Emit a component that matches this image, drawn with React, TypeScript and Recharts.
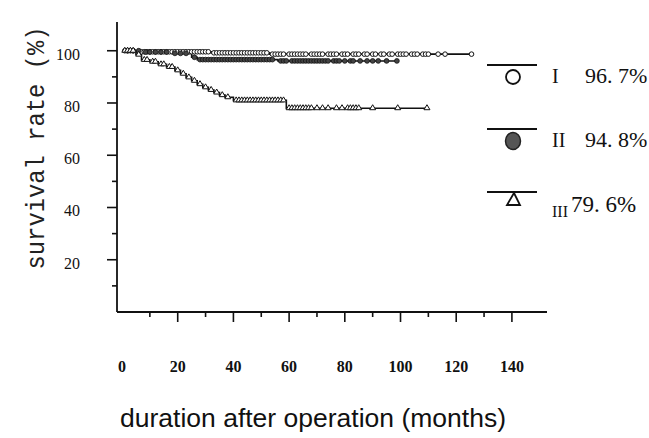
import React from 'react';
import { ComposedChart, Line, XAxis, YAxis } from 'recharts';

// Kaplan-Meier steps [month, survival %]
const stepsI: [number, number][] = [[0, 100], [5, 99.6], [32, 99.2], [53, 98.7]];
const stepsII: [number, number][] = [[0, 100], [8, 99.5], [18, 99], [25, 97.5], [27, 96.6], [56, 96.1]];
const stepsIII: [number, number][] = [
  [0, 100], [5, 98.5], [7, 96.5], [10, 95.8], [13, 94.8], [16, 93.8], [19, 92.5], [21, 91.2],
  [23, 89.8], [25, 88.5], [27, 87.2], [29, 86], [31, 85], [33, 84], [35, 83], [37, 82.2], [40, 81], [59, 78],
];

// censored cases (marks on the curves)
const censorI = [
  1, 2, 3, 4, 6, 7, 8, 9, 10, 11, 12, 13, 14, 15, 16, 17, 18, 19, 20, 21, 22, 23, 24, 25, 26, 27, 28, 29, 30, 31,
  33, 34, 35, 36, 37, 38, 39, 40, 41, 42, 43, 44, 45, 46, 47, 48, 49, 50, 51, 52, 54, 55, 56, 57, 58, 60, 61, 62,
  63, 64, 65, 66, 68, 69, 70, 71, 72, 74, 75, 76, 77, 79, 80, 81, 83, 84, 85, 87, 88, 90, 91, 93, 94, 96, 97, 99,
  100, 101, 102, 104, 105, 106, 108, 109, 110, 113.5, 116, 125.5,
];
const censorII = [
  2, 4, 6, 8.5, 10, 12, 14, 16, 19, 21, 23, 26, 28, 29, 30, 31, 32, 33, 34, 35, 36, 37, 38, 39, 40, 41, 42, 43, 44,
  45, 46, 47, 48, 49, 50, 51, 52, 53, 54, 57, 58, 59, 61, 62, 63, 64, 65, 66, 67, 68, 69, 70, 71, 72, 73, 74, 76,
  77, 78, 80, 82, 83, 85.5, 88, 90, 92, 95, 98.7,
];
const censorIII = [
  1, 2, 3, 4, 6, 8, 9, 11, 12, 14, 15, 17, 18, 20, 22, 24, 26, 28, 30, 32, 34, 36, 38, 41, 42, 43, 44, 45, 46, 47,
  48, 49, 50, 51, 52, 53, 54, 55, 56, 57, 58, 60, 61, 62, 63, 64, 65, 66, 67, 68, 70, 72, 74, 77, 79, 81, 82, 83,
  84, 85, 90, 99, 109.5,
];

const xTicks = [0, 10, 20, 30, 40, 50, 60, 70, 80, 90, 100, 110, 120, 130, 140];
const yTicks = [10, 20, 30, 40, 50, 60, 70, 80, 90, 100];

const legendItems = [
  { roman: 'I', rate: '96. 7%', marker: 'open' },
  { roman: 'II', rate: '94. 8%', marker: 'filled' },
  { roman: 'III', rate: '79. 6%', marker: 'triangle' },
];

type Pt = { t: number; s: number; c?: boolean };

const buildCurve = (steps: [number, number][], censor: number[]): Pt[] => {
  const at = (t: number) => {
    let s = steps[0][1];
    steps.forEach(([st, sv]) => { if (st <= t) s = sv; });
    return s;
  };
  const pts: Pt[] = [
    ...steps.map(([t, s]) => ({ t, s })),
    ...censor.map((t) => ({ t, s: at(t), c: true })),
  ];
  return pts.sort((a, b) => a.t - b.t);
};

const curveI = buildCurve(stepsI, censorI);
const curveII = buildCurve(stepsII, censorII);
const curveIII = buildCurve(stepsIII, censorIII);

const makeDot = (kind: string) => (props: any) => {
  const { cx, cy, payload, index } = props;
  if (!payload?.c) return <g key={`d-${kind}-${index}`} />;
  if (kind === 'open')
    return <circle key={`d-${kind}-${index}`} cx={cx} cy={cy} r={2.3} fill="#fff" stroke="#111" strokeWidth={1} />;
  if (kind === 'filled')
    return <circle key={`d-${kind}-${index}`} cx={cx} cy={cy} r={2.4} fill="#444" stroke="#111" strokeWidth={0.8} />;
  return (
    <path key={`d-${kind}-${index}`} d={`M${cx},${cy - 3.5} L${cx + 3},${cy + 1.5} L${cx - 3},${cy + 1.5} Z`}
      fill="#fff" stroke="#111" strokeWidth={1} />
  );
};

// y ticks: long at every 20, short in between; labels sit a little low as on the scan
const YTick = (props: any) => {
  const { x, y, payload } = props;
  const major = payload.value % 20 === 0;
  return (
    <g>
      <line x1={x - (major ? 10 : 5)} x2={x} y1={y} y2={y} stroke="#111" strokeWidth={1.6} />
      {major && (
        <text x={x - 37} y={y + 9} textAnchor="end" fontFamily="'Liberation Serif', serif" fontSize={16} fill="#111">
          {payload.value}
        </text>
      )}
    </g>
  );
};

const XTick = (props: any) => {
  const { x, y, payload } = props;
  const major = payload.value % 20 === 0;
  return (
    <g>
      {payload.value !== 0 && (
        <line x1={x} x2={x} y1={y} y2={y + (major ? 10 : 5)} stroke="#111" strokeWidth={1.6} />
      )}
      {major && (
        <text x={x} y={y + 60} textAnchor="middle" fontFamily="'Liberation Serif', serif" fontWeight="bold"
          fontSize={16} fill="#111">
          {payload.value}
        </text>
      )}
    </g>
  );
};

const LegendMarker = ({ kind, cy }: { kind: string; cy: number }) => {
  if (kind === 'open') return <circle cx={513} cy={cy + 12} r={7} fill="#fff" stroke="#111" strokeWidth={1.8} />;
  if (kind === 'filled') return <ellipse cx={513} cy={cy + 12} rx={7.5} ry={8.5} fill="#555" stroke="#222" strokeWidth={1.5} />;
  return <path d={`M514,${cy + 1} L520,${cy + 13} L507,${cy + 13} Z`} fill="#fff" stroke="#111" strokeWidth={1.8} />;
};

const App: React.FC = () => {
  const lineY = [65, 129, 192];
  return (
    <div style={{ position: 'absolute', left: 0, top: 0, width: 649, height: 438, background: '#fff' }}>
      <ComposedChart width={649} height={438} margin={{ top: 22, right: 102, bottom: 66, left: 57 }}>
        <XAxis type="number" dataKey="t" domain={[-1.8, 152.6]} ticks={xTicks} allowDataOverflow
          axisLine={{ stroke: '#111', strokeWidth: 1.8 }} tickLine={false} tickSize={0} tickMargin={0}
          height={60} tick={<XTick />} interval={0} />
        <YAxis type="number" domain={[0, 111]} ticks={yTicks} allowDataOverflow
          axisLine={{ stroke: '#111', strokeWidth: 1.8 }} tickLine={false} tickSize={0} tickMargin={0}
          width={60} tick={<YTick />} interval={0} />
        <Line data={curveI} dataKey="s" type="stepAfter" stroke="#111" strokeWidth={1.6}
          dot={makeDot('open')} activeDot={false} isAnimationActive={false} />
        <Line data={curveII} dataKey="s" type="stepAfter" stroke="#111" strokeWidth={1.6}
          dot={makeDot('filled')} activeDot={false} isAnimationActive={false} />
        <Line data={curveIII} dataKey="s" type="stepAfter" stroke="#111" strokeWidth={1.6}
          dot={makeDot('triangle')} activeDot={false} isAnimationActive={false} />
      </ComposedChart>
      <svg width={649} height={438} style={{ position: 'absolute', left: 0, top: 0, pointerEvents: 'none' }}>
        <text x={37} y={148} transform="rotate(-90 37 148)" textAnchor="middle" dominantBaseline="central"
          fontFamily="'Liberation Mono', monospace" fontSize={26} textLength={243} lengthAdjust="spacingAndGlyphs"
          fill="#222">
          survival rate (%)
        </text>
        <text x={313} y={427} textAnchor="middle" fontFamily="'Liberation Sans', Arial, sans-serif" fontSize={26.5}
          fill="#111">
          duration after operation (months)
        </text>
        {legendItems.map((it, i) => (
          <g key={it.roman}>
            <line x1={487} x2={537} y1={lineY[i]} y2={lineY[i]} stroke="#111" strokeWidth={1.8} />
            <LegendMarker kind={it.marker} cy={lineY[i]} />
            {i < 2 ? (
              <>
                <text x={552} y={lineY[i] + 18} fontFamily="'Liberation Serif', serif" fontSize={20} fill="#111">{it.roman}</text>
                <text x={585} y={lineY[i] + 18} fontFamily="'Liberation Serif', serif" fontSize={22} fill="#111">{it.rate}</text>
              </>
            ) : (
              <>
                <text x={552} y={lineY[i] + 25} fontFamily="'Liberation Serif', serif" fontSize={16} fill="#111">{it.roman}</text>
                <text x={571} y={lineY[i] + 20} fontFamily="'Liberation Serif', serif" fontSize={23} fill="#111">{it.rate}</text>
              </>
            )}
          </g>
        ))}
      </svg>
    </div>
  );
};

export default App;
